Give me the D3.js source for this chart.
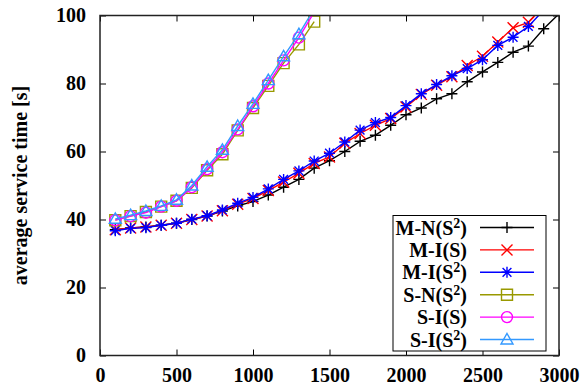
<!DOCTYPE html>
<html><head><meta charset="utf-8">
<script src="https://cdn.jsdelivr.net/npm/d3@7"></script>
<style>
body{margin:0;background:#fff;}
svg{display:block;}
text{font-family:"Liberation Serif","Times New Roman",serif;font-weight:bold;}
</style></head>
<body>
<svg id="c" width="582" height="389"></svg>
<script>
// ---- data ----
const mX = [100,200,300,400,500,600,700,800,900,1000,1100,1200,1300,1400,1500,1600,1700,1800,1900,2000,2100,2200,2300,2400,2500,2600,2700,2800,2900,3000];
const sX = [100,200,300,400,500,600,700,800,900,1000,1100,1200,1300,1400];
const mnS2 = [37,37.5,37.8,38.3,38.9,40,41,42.5,44,45.3,47.2,49.5,51.8,55.1,57.3,60,63,64.8,67.7,70.8,72.8,75.5,77,80.5,83.4,86.2,89.2,91,96.1,100.5];
const miS  = [37,37.5,37.8,38.3,38.9,40,41,42.6,44.5,46.2,48.5,51,53.6,56.5,58.4,62.4,65.3,67.7,69.7,73.1,76.8,79.5,82,85.3,88,92.2,96.4,98,102.8];
const miS2 = [36.7,37.4,37.6,38.3,38.9,40.1,41.1,42.8,44.8,46.5,49,51.8,54.3,57.2,59.5,62.8,66.3,68.5,70,73.5,77,79.7,82.3,84.4,87,91.2,93.6,96.8,101.6];
const snS2 = [39.8,41,42.2,43.8,45.5,49.3,54.5,59.2,66.2,72.8,79.3,86,91.5,98.2];
const siS  = [39.8,41,42,43.8,45.5,49.5,54.8,59.8,66.5,73.3,80,86.8,93.5,101];
const siS2 = [40.2,41.3,42.5,44,45.8,50,55.5,60.5,67.5,74,81,88,94.5,102];
const seriesBase = ["M-N(S","M-I(S","M-I(S","S-N(S","S-I(S","S-I(S"];
const seriesSup = ["2","","2","2","","2"];
const xTicks = [0,500,1000,1500,2000,2500,3000];
const yTicks = [0,20,40,60,80,100];
const yLabel = "average service time [s]";

// ---- setup ----
const colors = ["#000000","#ff0000","#0000ff","#999900","#ff00ff","#3399ff"];
const shapes = ["plus","cross","star","square","circle","triangle"];
const seriesData = [
  mX.map((x,i)=>[x,mnS2[i]]).filter(d=>d[1]!==undefined),
  mX.map((x,i)=>[x,miS[i]]).filter(d=>d[1]!==undefined),
  mX.map((x,i)=>[x,miS2[i]]).filter(d=>d[1]!==undefined),
  sX.map((x,i)=>[x,snS2[i]]),
  sX.map((x,i)=>[x,siS[i]]),
  sX.map((x,i)=>[x,siS2[i]])
];

const L=100,R=559,T=15.5,B=355.5;
const x = d3.scaleLinear().domain([0,3000]).range([L,R]);
const y = d3.scaleLinear().domain([0,100]).range([B,T]);
const svg = d3.select("#c");

svg.append("defs").append("clipPath").attr("id","clip")
  .append("rect").attr("x",L).attr("y",T).attr("width",R-L).attr("height",B-T);

function markerPath(s){
  const r=5.5;
  switch(s){
    case "plus": return `M${-r},0H${r}M0,${-r}V${r}`;
    case "cross": return `M${-r},${-r}L${r},${r}M${-r},${r}L${r},${-r}`;
    case "star": return `M${-r},0H${r}M0,${-r}V${r}M${-r*0.8},${-r*0.8}L${r*0.8},${r*0.8}M${-r*0.8},${r*0.8}L${r*0.8},${-r*0.8}`;
    case "square": return `M${-r},${-r}H${r}V${r}H${-r}Z`;
    case "circle": return d3.symbol(d3.symbolCircle, Math.PI*r*r)();
    case "triangle": return `M0,${-r-0.5}L${r+0.5},${r-1}L${-r-0.5},${r-1}Z`;
  }
}

// axes with inside ticks (mirrored)
const tl = 6;
const fmt = d3.format("d");
svg.append("g").attr("transform",`translate(0,${B})`)
  .call(d3.axisBottom(x).tickValues(xTicks).tickFormat(fmt).tickSizeInner(-tl).tickSizeOuter(0).tickPadding(12))
  .call(g=>{g.select(".domain").remove();g.selectAll("text").attr("font-size",20).attr("fill","#000").attr("font-family","Liberation Serif").attr("font-weight","bold").attr("dy","0.71em");});
svg.append("g").attr("transform",`translate(0,${T})`)
  .call(d3.axisTop(x).tickValues(xTicks).tickSizeInner(-tl).tickSizeOuter(0).tickFormat(""))
  .call(g=>g.select(".domain").remove());
svg.append("g").attr("transform",`translate(${L},0)`)
  .call(d3.axisLeft(y).tickValues(yTicks).tickFormat(fmt).tickSizeInner(-tl).tickSizeOuter(0).tickPadding(14))
  .call(g=>{g.select(".domain").remove();g.selectAll("text").attr("font-size",20).attr("fill","#000").attr("font-family","Liberation Serif").attr("font-weight","bold");});
svg.append("g").attr("transform",`translate(${R},0)`)
  .call(d3.axisRight(y).tickValues(yTicks).tickSizeInner(-tl).tickSizeOuter(0).tickFormat(""))
  .call(g=>g.select(".domain").remove());
svg.selectAll(".tick line").attr("stroke","#000").attr("stroke-width",1);

// series
const line = d3.line().x(d=>x(d[0])).y(d=>y(d[1]));
const plot = svg.append("g").attr("clip-path","url(#clip)");
seriesData.forEach((data,k)=>{
  plot.append("path").datum(data).attr("d",line)
    .attr("fill","none").attr("stroke",colors[k]).attr("stroke-width",1.4);
  plot.selectAll(null).data(data.filter(d=>d[1]<=100)).enter().append("path")
    .attr("transform",d=>`translate(${x(d[0])},${y(d[1])})`)
    .attr("d",markerPath(shapes[k]))
    .attr("fill","none").attr("stroke",colors[k]).attr("stroke-width",1.4);
});

// border
svg.append("rect").attr("x",L).attr("y",T).attr("width",R-L).attr("height",B-T)
  .attr("fill","none").attr("stroke","#222").attr("stroke-width",1.5);

// y label
svg.append("text").attr("transform",`translate(27,${(T+B)/2}) rotate(-90)`)
  .attr("text-anchor","middle").attr("font-size",20).text(yLabel);

// legend
const lg = svg.append("g");
lg.append("rect").attr("x",393).attr("y",215.5).attr("width",153).attr("height",135.5)
  .attr("fill","#fff").attr("stroke","#000").attr("stroke-width",1);
seriesBase.forEach((n,k)=>{
  const cy = 227.5 + k*22.4;
  const t = lg.append("text").attr("x",467).attr("y",cy+7).attr("text-anchor","end").attr("font-size",20);
  t.append("tspan").text(n);
  if(seriesSup[k]){
    t.append("tspan").attr("font-size",14).attr("dy",-7).text(seriesSup[k]);
    t.append("tspan").attr("dy",7).text(")");
  } else {
    t.append("tspan").text(")");
  }
  lg.append("line").attr("x1",480).attr("x2",534).attr("y1",cy).attr("y2",cy)
    .attr("stroke",colors[k]).attr("stroke-width",1.4);
  lg.append("path").attr("transform",`translate(507,${cy})`).attr("d",markerPath(shapes[k]))
    .attr("fill","none").attr("stroke",colors[k]).attr("stroke-width",1.4);
});
</script>
</body></html>
